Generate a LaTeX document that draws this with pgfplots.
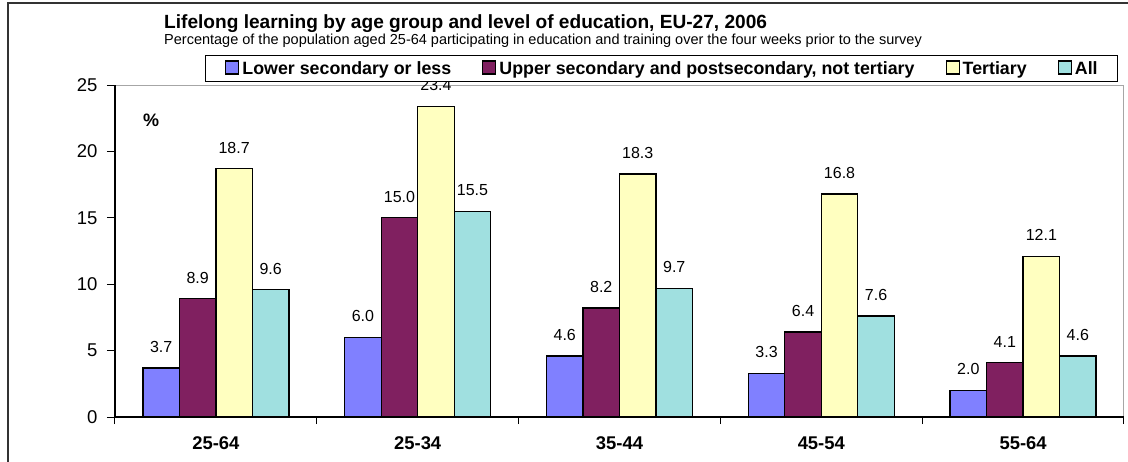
\documentclass[border=0pt]{standalone}
\usepackage{fontspec}
\setmainfont{Liberation Sans}
\usepackage{pgfplots}
\pgfplotsset{compat=1.18}
\pgfplotsset{/pgf/number format/assume math mode=true}
\definecolor{lowc}{HTML}{8080FF}
\definecolor{uppc}{HTML}{802060}
\definecolor{terc}{HTML}{FFFFC0}
\definecolor{allc}{HTML}{A0E0E0}
\newcommand{\fs}[1]{\fontsize{#1}{#1}\selectfont}

\begin{document}
\begin{tikzpicture}
\useasboundingbox (-115pt,-44pt) rectangle (1013pt,417pt);
\begin{axis}[
    at={(0pt,0pt)}, anchor=south west,
    width=1009pt, height=332pt, scale only axis,
    xmin=-0.5, xmax=4.5, ymin=0, ymax=25,
    ybar=0pt, bar width=36.5pt,
    axis line style={draw=gray!70, line width=1pt},
    xtick={0,1,2,3,4},
    xticklabels={25-64,25-34,35-44,45-54,55-64},
    major x tick style={draw=none},
    minor xtick={-0.5,0.5,1.5,2.5,3.5,4.5},
    ytick={0,5,10,15,20,25},
    xtick pos=left, ytick pos=left,
    tick align=outside,
    major tick length=8pt, minor tick length=7pt,
    tick style={black, line width=1pt},
    yticklabel style={font=\fs{18.5}, xshift=-6pt},
    xticklabel style={font=\bfseries\fs{18.4}, yshift=-8pt},
    every axis plot/.append style={draw=black, line width=1.3pt},
    nodes near coords={\pgfmathprintnumber[fixed,fixed zerofill,precision=1]{\pgfplotspointmeta}},
    nodes near coords style={font=\fs{16}, text=black, inner sep=0pt, anchor=south, yshift=14.7pt},
    legend columns=4,
    legend image code/.code={\draw[#1,draw=black,line width=1.2pt] (0pt,-5pt) rectangle (13pt,8pt);},
    legend style={at={(0.5416,1.0502)}, anchor=center, draw=black, line width=1pt,
        font=\bfseries\fs{17.8}, inner xsep=19.5pt, inner ysep=5pt,
        nodes={inner sep=0pt},
        /tikz/every odd column/.append style={column sep=3pt},
        /tikz/every even column/.append style={column sep=31pt}},
    after end axis/.code={\draw[black,line width=1.3pt] (rel axis cs:0,1) -- (rel axis cs:0,0) -- (rel axis cs:1,0);}
]
\addplot[fill=lowc] coordinates {(0,3.7) (1,6.0) (2,4.6) (3,3.3) (4,2.0)};
\addlegendentry{Lower secondary or less}
\addplot[fill=uppc] coordinates {(0,8.9) (1,15.0) (2,8.2) (3,6.4) (4,4.1)};
\addlegendentry{Upper secondary and postsecondary, not tertiary}
\addplot[fill=terc] coordinates {(0,18.7) (1,23.4) (2,18.3) (3,16.8) (4,12.1)};
\addlegendentry{Tertiary}
\addplot[fill=allc] coordinates {(0,9.6) (1,15.5) (2,9.7) (3,7.6) (4,4.6)};
\addlegendentry{All}
\end{axis}
\node[anchor=base west, inner sep=0pt, font=\bfseries\fs{19.1}] at (49pt,388.7pt) {Lifelong learning by age group and level of education, EU-27, 2006};
\node[anchor=base west, inner sep=0pt, font=\fs{14.5}] at (49pt,372.7pt) {Percentage of the population aged 25-64 participating in education and training over the four weeks prior to the survey};
\node[anchor=base west, inner sep=0pt, font=\bfseries\fs{18}] at (28pt,290pt) {\%};
\draw[line width=2pt, black!80] (-107pt,-60pt) -- (-107pt,414pt) -- (1030pt,414pt);
\end{tikzpicture}
\end{document}
